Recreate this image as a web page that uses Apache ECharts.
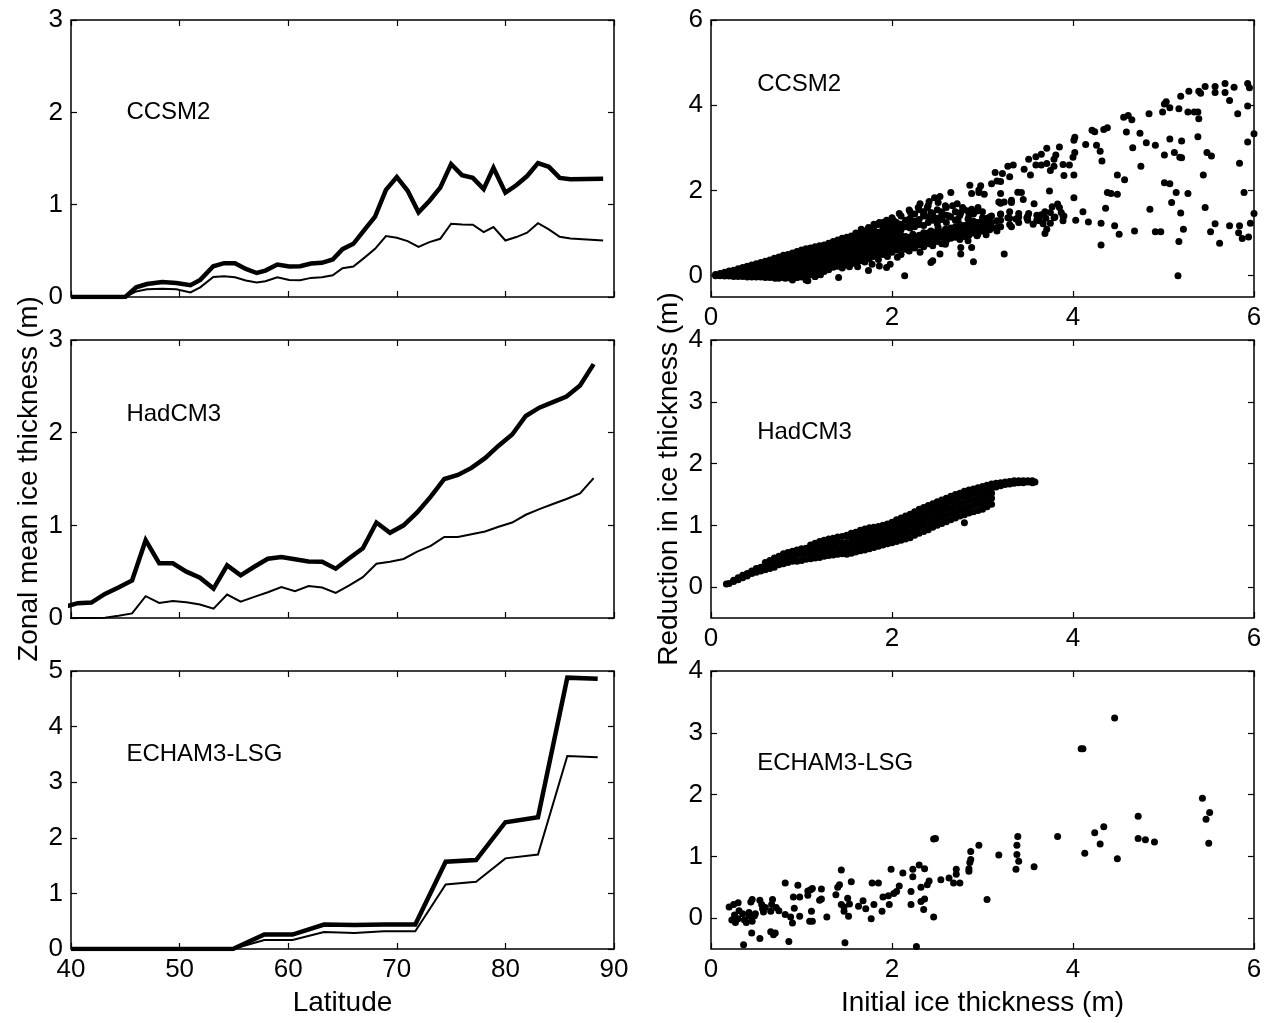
<!DOCTYPE html>
<html><head><meta charset="utf-8">
<script src="https://cdn.jsdelivr.net/npm/echarts@6/dist/echarts.min.js"></script>
<style>html,body{margin:0;padding:0;background:#fff}#c{width:1266px;height:1023px}</style>
</head><body><div id="c"></div><script>
// ---------------- DATA ----------------
const modelNames = ['CCSM2', 'HadCM3', 'ECHAM3-LSG'];

const latCCSM2 = [40,45,46,47,48.4,49.7,51,51.9,53.1,54.1,55.1,56.1,57.1,57.9,59,60.1,61.1,62.1,63.1,64.1,65,66,67,68,69,70,71,72,73,74,75,76,77,78,78.9,80,81,82,83,84,85,86,89];
const ccsm2Thick = [0,0,0.105,0.14,0.163,0.152,0.127,0.185,0.333,0.366,0.366,0.304,0.26,0.286,0.351,0.33,0.333,0.362,0.37,0.406,0.518,0.576,0.725,0.87,1.16,1.30,1.15,0.917,1.04,1.185,1.44,1.32,1.29,1.17,1.40,1.13,1.21,1.31,1.45,1.41,1.29,1.275,1.28];
const ccsm2Thin = [0,0,0.06,0.085,0.09,0.085,0.05,0.105,0.217,0.225,0.214,0.178,0.156,0.17,0.214,0.185,0.181,0.207,0.214,0.236,0.312,0.33,0.424,0.522,0.66,0.641,0.605,0.543,0.594,0.63,0.793,0.786,0.783,0.703,0.757,0.612,0.649,0.696,0.80,0.732,0.652,0.634,0.612];

const latHadCM3 = [39.375,40.625,41.875,43.125,44.375,45.625,46.875,48.125,49.375,50.625,51.875,53.125,54.375,55.625,56.875,58.125,59.375,60.625,61.875,63.125,64.375,65.625,66.875,68.125,69.375,70.625,71.875,73.125,74.375,75.625,76.875,78.125,79.375,80.625,81.875,83.125,84.375,85.625,86.875,88.125];
const hadThick = [0.12,0.16,0.167,0.26,0.33,0.405,0.84,0.59,0.59,0.5,0.434,0.318,0.568,0.46,0.553,0.64,0.658,0.633,0.611,0.608,0.532,0.644,0.752,1.03,0.919,1.0,1.14,1.31,1.50,1.544,1.62,1.725,1.86,1.98,2.18,2.27,2.33,2.39,2.51,2.74];
const hadThin = [0,0,0,0.004,0.025,0.05,0.235,0.163,0.184,0.17,0.145,0.10,0.253,0.177,0.228,0.278,0.333,0.29,0.344,0.329,0.271,0.351,0.44,0.586,0.608,0.637,0.716,0.778,0.875,0.875,0.904,0.933,0.984,1.03,1.114,1.175,1.23,1.284,1.345,1.51];

const latECHAM = [40,43.2,46.0,48.8,51.6,54.9,57.8,60.4,63.3,66.1,68.8,71.7,74.5,77.3,80.0,83.0,85.7,88.5];
const echamThick = [0,0,0,0,0,0,0.26,0.26,0.44,0.43,0.44,0.44,1.57,1.60,2.28,2.37,4.88,4.86];
const echamThin = [0,0,0,0,0,0,0.163,0.163,0.307,0.289,0.319,0.319,1.16,1.21,1.63,1.70,3.47,3.45];

// CCSM2 scatter: dense core, read column by column [initial thickness, [reductions]]
const ccsm2Columns = [
 [0.05,[0.0,0.03]],[0.1,[0.0,0.05]],[0.15,[-0.01,0.04,0.08]],[0.2,[-0.01,0.05,0.11]],
 [0.25,[-0.02,0.05,0.13]],[0.3,[-0.02,0.04,0.1,0.16]],[0.35,[-0.02,0.05,0.12,0.19]],
 [0.4,[-0.03,0.04,0.11,0.18,0.22]],[0.45,[-0.03,0.04,0.12,0.2,0.25]],[0.5,[-0.03,0.05,0.13,0.21,0.28]],
 [0.55,[-0.03,0.05,0.13,0.22,0.31]],[0.6,[-0.04,0.04,0.12,0.2,0.28,0.34]],[0.65,[-0.04,0.04,0.12,0.21,0.3,0.37]],
 [0.7,[-0.05,0.03,0.11,0.2,0.29,0.38,0.41]],[0.75,[-0.06,0.03,0.12,0.21,0.3,0.39,0.44]],
 [0.8,[-0.04,0.04,0.13,0.22,0.31,0.4,0.48]],[0.85,[-0.05,0.04,0.13,0.22,0.31,0.4,0.5]],
 [0.9,[-0.08,0.02,0.11,0.2,0.29,0.38,0.47,0.53]],[0.95,[-0.04,0.05,0.14,0.23,0.32,0.41,0.5,0.57]],
 [1.0,[-0.03,0.06,0.15,0.24,0.33,0.42,0.51,0.6]],[1.05,[-0.1,0.02,0.11,0.2,0.29,0.38,0.47,0.56,0.63]],
 [1.1,[0.02,0.11,0.2,0.29,0.38,0.47,0.56,0.65]],[1.15,[-0.02,0.07,0.16,0.25,0.34,0.43,0.52,0.61,0.68]],
 [1.2,[0.04,0.13,0.22,0.31,0.4,0.49,0.58,0.67,0.7]],[1.25,[0.1,0.19,0.28,0.37,0.46,0.55,0.64,0.72]],
 [1.3,[0.14,0.23,0.32,0.41,0.5,0.59,0.68,0.76]],[1.35,[0.2,0.29,0.38,0.47,0.56,0.65,0.74,0.8]],
 [1.4,[0.22,0.31,0.4,0.49,0.58,0.67,0.76,0.84]],[1.45,[0.18,0.27,0.36,0.45,0.54,0.63,0.72,0.81,0.88]],
 [1.5,[0.25,0.34,0.43,0.52,0.61,0.7,0.79,0.9]],[1.55,[0.28,0.37,0.46,0.55,0.64,0.73,0.82,0.93]],
 [1.6,[0.3,0.4,0.5,0.6,0.7,0.8,0.9,1.0]],[1.65,[0.35,0.45,0.55,0.65,0.75,0.85,0.98]],
 [1.7,[0.32,0.42,0.52,0.62,0.72,0.82,0.92,1.05]],[1.75,[0.4,0.5,0.6,0.7,0.8,0.9,1.0,1.1]],
 [1.8,[0.45,0.55,0.65,0.75,0.85,0.95,1.05,1.15]],[1.85,[0.38,0.5,0.62,0.72,0.82,0.92,1.02,1.2]],
 [1.9,[0.5,0.6,0.7,0.8,0.9,1.0,1.12,1.25]],[1.95,[0.45,0.55,0.68,0.78,0.88,0.98,1.1,1.22]],
 [2.0,[0.55,0.65,0.75,0.85,0.95,1.05,1.18,1.3]],[2.05,[0.6,0.7,0.8,0.9,1.0,1.12,1.25]],
 [2.1,[0.5,0.65,0.75,0.85,0.95,1.08,1.2,1.4]],[2.15,[0.62,0.72,0.82,0.92,1.15,1.3]],
 [2.2,[0.7,0.8,0.9,1.12,1.22,1.35,1.5]],[2.25,[0.65,0.78,0.88,1.15,1.28,1.45]],
 [2.3,[0.72,0.85,0.95,1.2,1.32,1.55]],[2.35,[0.68,0.8,0.92,1.18,1.4,1.5]],
 [2.4,[0.75,0.88,1.0,1.25,1.38,1.65]],[2.45,[0.7,0.85,0.97,1.3,1.45]],
 [2.5,[0.8,0.92,1.05,1.22,1.35,1.55]],[2.55,[0.75,0.9,1.02,1.32,1.5]],
 [2.6,[0.82,0.95,1.08,1.25,1.42,1.6]],[2.65,[0.88,1.0,1.12,1.38]],
 [2.7,[0.9,1.02,1.15,1.3,1.5]],[2.75,[0.85,0.98,1.1,1.2,1.42]],
 [2.8,[0.92,1.05,1.18,1.55]],[2.85,[0.95,1.1,1.22,1.4]],[2.9,[1.0,1.15,1.28,1.45]],
 [2.95,[0.98,1.12,1.25,1.6]],[3.0,[1.05,1.18,1.3,1.5]],[3.05,[1.1,1.22,1.35]],
 [3.1,[1.12,1.25,1.4]],[3.2,[1.15,1.3,1.45,1.7]],[3.3,[1.2,1.35,1.5]],[3.4,[1.25,1.38]],
 [3.5,[1.3,1.4]],[3.6,[1.3,1.42]],[3.7,[1.35]],[3.8,[1.38]],[3.9,[1.4]]
];
// CCSM2 scatter: individually read points
const ccsm2Points = [
 [5.68,4.51],[5.78,4.42],[5.93,4.51],[5.95,4.41],[5.57,4.44],[5.68,4.30],[5.57,4.30],[5.46,4.44],[5.41,4.28],[5.39,4.33],
 [5.28,4.33],[5.19,4.21],[5.03,4.08],[5.01,4.03],[5.07,3.94],[5.17,3.92],[5.73,4.11],[5.93,3.98],[5.82,3.80],[5.38,3.84],
 [5.27,3.84],[5.34,3.84],[5.39,3.68],[4.99,3.84],[4.84,3.80],[4.56,3.72],[4.61,3.76],[4.65,3.66],[4.38,3.47],[4.34,3.43],
 [4.21,3.41],[4.24,3.38],[4.02,3.25],[4.01,3.18],[4.14,3.08],[4.26,3.06],[4.59,3.37],[4.74,3.34],[6.0,3.33],[5.93,3.14],
 [5.38,3.26],[5.20,3.16],[5.07,3.21],[4.81,3.12],[4.91,3.06],[4.66,3.00],[4.02,2.89],[4.30,2.92],[4.32,2.69],[5.01,2.83],
 [5.12,2.89],[5.18,2.78],[5.20,2.77],[5.48,2.89],[5.53,2.81],[4.75,2.57],[5.84,2.64],[4.49,2.36],[4.57,2.25],[5.44,2.36],
 [5.01,2.18],[5.07,2.16],[4.38,1.95],[4.42,1.93],[4.49,1.91],[5.14,1.95],[5.27,1.93],[5.89,1.95],[5.09,1.72],[4.01,1.83],
 [4.36,1.58],[4.85,1.56],[5.46,1.60],[4.11,1.50],[5.19,1.47],[6.0,1.46],[4.03,1.30],[4.17,1.26],[4.31,1.23],[4.46,1.17],
 [4.51,0.97],[4.68,1.05],[4.91,1.03],[4.97,1.03],[5.22,1.09],[5.52,1.03],[5.57,1.22],[5.73,1.17],[5.84,1.17],[5.83,1.01],
 [5.87,0.87],[5.94,0.91],[5.96,1.23],[5.62,0.76],[5.17,0.80],[4.31,0.72],[5.16,0.0],
 [3.71,2.99],[3.85,3.02],[3.81,2.83],[3.79,2.73],[3.89,2.61],[3.96,2.60],[4.0,2.78],[3.65,2.85],[3.59,2.79],[3.51,2.73],
 [3.46,2.50],[3.59,2.60],[3.65,2.60],[3.71,2.63],[3.79,2.57],[3.75,2.47],[3.90,2.35],[4.01,2.36],[3.53,2.36],[3.28,2.57],
 [3.34,2.60],[3.22,2.40],[3.30,2.32],[3.16,2.22],[3.20,2.21],[3.10,2.16],[3.14,2.42],[2.98,2.11],[2.96,2.01],[2.86,2.12],
 [2.88,1.93],[2.96,1.95],[3.02,1.91],[3.39,1.96],[3.43,1.95],[3.20,1.93],[3.74,1.99],[3.45,1.79],[3.18,1.73],[3.24,1.73],
 [3.32,1.72],[3.32,1.77],[3.57,1.69],[3.83,1.68],[3.69,1.50],[3.77,1.62],[3.85,1.60],[3.75,1.48],[3.87,1.48],[3.89,1.40],
 [3.89,1.29],[3.79,1.36],[3.65,1.43],[3.63,1.29],[3.75,1.23],[3.67,1.22],[3.56,1.21],[3.71,1.09],[3.69,0.99],[3.49,1.36],
 [3.40,1.46],[3.51,1.46],[3.32,1.15],[3.24,0.51],[3.16,1.13],[3.08,1.08],[3.0,1.09],
 [2.65,1.95],[2.53,1.86],[2.47,1.83],[2.41,1.74],[2.51,1.72],[2.59,1.64],[2.67,1.64],[2.78,1.60],[2.72,1.69],[2.84,1.52],
 [2.88,1.56],[2.94,1.52],[2.76,1.48],[2.31,1.69],[2.29,1.60],[2.39,1.60],[2.19,1.54],[2.08,1.46],[2.35,1.44],[2.43,1.48],
 [2.55,1.43],[2.63,1.40],[2.73,1.33],[2.84,1.33],[3.0,1.36],[3.08,1.38],[3.20,1.44],[3.28,1.36],[3.37,1.33],[3.16,1.29],
 [3.04,1.21],[2.92,1.25],[2.84,1.17],[2.76,1.13],[2.67,1.09],[2.59,1.09],[2.51,1.13],[2.43,1.05],[2.35,1.01],[2.23,0.97],
 [2.27,1.21],[2.19,1.29],[2.10,1.21],[2.02,1.29],[1.94,1.30],[2.0,1.36],[1.86,1.25],[1.80,1.21],[1.74,1.13],[1.66,1.09],
 [0.71,-0.06],[0.82,-0.06],[0.90,-0.10],[0.95,-0.04],[1.07,-0.12],[1.15,-0.02],[1.21,0.02],[1.27,0.16],[1.41,-0.04],[1.53,0.21],
 [1.62,0.21],[1.74,0.12],[1.78,0.27],[1.86,0.23],[1.94,0.19],[1.98,0.27],[2.14,0.0],[2.06,0.43],[2.19,0.58],[2.31,0.55],
 [2.43,0.31],[2.45,0.35],[2.53,0.51],[2.59,0.74],[2.76,0.51],[2.76,0.66],[2.90,0.33],[2.88,0.66],[2.84,0.82],[2.94,0.94],
 [3.04,0.96],[3.16,1.05]
];

// HadCM3 scatter: band read column by column
const hadColumns = [
 [0.17,[0.05]],[0.2,[0.06]],[0.25,[0.09,0.11]],[0.3,[0.12,0.15]],[0.35,[0.15,0.19]],[0.4,[0.18,0.22]],
 [0.45,[0.22,0.26]],[0.5,[0.24,0.3]],[0.55,[0.26,0.32]],[0.6,[0.28,0.35,0.4]],[0.65,[0.3,0.37,0.43]],
 [0.7,[0.32,0.4,0.47]],[0.75,[0.36,0.44,0.5]],[0.8,[0.38,0.46,0.54]],[0.85,[0.4,0.48,0.56]],
 [0.9,[0.42,0.5,0.58]],[0.95,[0.42,0.52,0.6]],[1.0,[0.43,0.53,0.62]],[1.05,[0.45,0.55,0.63]],
 [1.1,[0.46,0.55,0.64,0.68]],[1.15,[0.47,0.56,0.65,0.71]],[1.2,[0.48,0.57,0.66,0.74]],
 [1.25,[0.5,0.58,0.67,0.76]],[1.3,[0.51,0.6,0.69,0.78]],[1.35,[0.52,0.62,0.71,0.79]],
 [1.4,[0.53,0.62,0.72,0.81]],[1.45,[0.54,0.63,0.72,0.82]],[1.5,[0.53,0.62,0.72,0.82,0.84]],
 [1.55,[0.55,0.64,0.73,0.82,0.87]],[1.6,[0.57,0.66,0.75,0.84,0.89]],[1.65,[0.59,0.68,0.77,0.86,0.92]],
 [1.7,[0.6,0.69,0.78,0.87,0.94]],[1.75,[0.62,0.71,0.8,0.89,0.96]],[1.8,[0.64,0.73,0.82,0.9,0.97]],
 [1.85,[0.66,0.75,0.84,0.92,0.98]],[1.9,[0.68,0.77,0.86,0.94,1.0]],[1.95,[0.7,0.79,0.88,0.96,1.02]],
 [2.0,[0.72,0.81,0.9,0.99,1.05]],[2.05,[0.74,0.83,0.92,1.01,1.09]],[2.1,[0.76,0.85,0.94,1.03,1.12]],
 [2.15,[0.78,0.87,0.96,1.06,1.15]],[2.2,[0.8,0.9,1.0,1.1,1.18]],[2.25,[0.84,0.94,1.04,1.14,1.22]],
 [2.3,[0.87,0.97,1.07,1.17,1.26]],[2.35,[0.9,1.0,1.1,1.2,1.29]],[2.4,[0.93,1.03,1.13,1.23,1.32]],
 [2.45,[0.97,1.07,1.17,1.27,1.35]],[2.5,[1.0,1.1,1.2,1.3,1.38]],[2.55,[1.03,1.13,1.23,1.33,1.41]],
 [2.6,[1.06,1.16,1.26,1.36,1.44]],[2.65,[1.09,1.19,1.29,1.39,1.47]],[2.7,[1.12,1.22,1.32,1.42,1.5]],
 [2.75,[1.15,1.25,1.35,1.45,1.52]],[2.8,[1.17,1.27,1.37,1.47,1.55]],[2.85,[1.2,1.3,1.4,1.5,1.57]],
 [2.9,[1.22,1.32,1.42,1.52,1.59]],[2.95,[1.24,1.34,1.44,1.54,1.61]],[3.0,[1.26,1.36,1.46,1.56,1.63]],
 [3.05,[1.3,1.4,1.5,1.58,1.65]],[3.1,[1.34,1.44,1.52,1.6,1.67]],[3.15,[1.62,1.68]],[3.2,[1.64,1.69]],
 [3.25,[1.66,1.7]],[3.3,[1.67,1.71]],[3.35,[1.68,1.72]],[3.4,[1.69,1.72]],[3.45,[1.69,1.72]],
 [3.5,[1.7,1.72]],[3.55,[1.69,1.72]],[3.58,[1.7]]
];
const hadPoints = [[2.8,1.04]];

// ECHAM3-LSG scatter points
const echamPoints = [
 [4.46,3.24],[4.09,2.74],[4.11,2.74],[5.43,1.94],[4.72,1.65],[5.51,1.71],[5.47,1.60],[5.50,1.21],[4.34,1.48],[4.24,1.38],
 [4.30,1.20],[4.13,1.05],[4.49,0.96],[4.72,1.29],[4.80,1.27],[4.90,1.23],[3.83,1.32],[3.39,1.32],[3.38,1.18],[3.38,1.03],
 [3.40,0.92],[3.37,0.79],[3.57,0.83],[3.18,1.02],[3.05,0.30],[2.96,1.18],[2.87,1.08],[2.87,0.95],[2.86,0.90],[2.85,0.80],
 [2.85,0.76],[2.71,0.79],[2.71,0.71],[2.75,0.57],[2.68,0.57],[2.63,0.65],[2.54,0.62],[2.48,1.29],[2.46,1.28],[2.41,0.60],
 [2.39,0.54],[2.32,0.50],[2.36,0.80],[2.30,0.86],[2.23,0.79],[2.23,0.67],[2.12,0.73],[2.08,0.52],[2.05,0.43],[1.99,0.79],
 [2.02,0.40],[1.96,0.36],[1.90,0.34],[1.97,0.22],[1.89,0.11],[2.36,0.31],[2.32,0.27],[2.35,0.14],[2.46,0.02],[2.21,0.43],
 [2.21,0.22],[2.27,-0.46],[1.85,0.57],[1.78,0.57],[1.80,0.22],[1.77,-0.01],[1.68,0.28],[1.71,0.15],[1.63,0.19],[1.55,0.59],
 [1.53,0.23],[1.52,0.03],[1.51,0.32],[1.47,0.18],[1.47,0.11],[1.48,-0.40],[1.44,0.78],[1.42,0.54],[1.40,0.50],[1.38,0.38],
 [1.44,0.22],[1.28,0.02],[1.22,0.47],[1.22,0.31],[1.20,0.29],[1.12,0.48],[1.10,0.46],[1.07,0.44],[1.07,0.37],[1.11,0.11],
 [1.09,-0.05],[1.12,-0.05],[0.98,0.34],[0.96,0.53],[0.98,0.03],[0.90,-0.08],[0.91,0.34],[0.92,0.16],[0.88,0.02],[0.86,-0.38],
 [0.82,0.57],[0.82,0.06],[0.72,0.17],[0.75,0.12],[0.71,-0.24],[0.69,-0.27],[0.68,0.30],[0.66,-0.22],[0.66,0.11],[0.67,0.22],
 [0.63,-0.51],[0.58,0.10],[0.57,0.15],[0.54,0.29],[0.56,0.22],[0.54,-0.33],[0.48,0.04],[0.455,0.30],[0.44,0.26],[0.455,-0.05],
 [0.45,-0.24],[0.42,0.09],[0.39,-0.07],[0.37,-0.03],[0.36,-0.43],[0.35,0.07],[0.31,0.12],[0.30,-0.01],[0.27,-0.07],[0.26,0.05],
 [0.23,-0.03],[0.30,0.25],[0.25,0.22],[0.20,0.18],[0.42,0.03],[0.49,0.07],[0.60,0.17]
];

// Axis ranges and tick labels
const latTicks = [40,50,60,70,80,90];
const leftYRanges = [[0,3],[0,3],[0,5]];
const rightXTicks = [0,2,4,6];
const rightYRanges = [[-0.5,6],[-0.5,4],[-0.5,4]];
const rightYTicks = [[0,2,4,6],[0,1,2,3,4],[0,1,2,3,4]];
const labelAtLeft = [[45.1,2.0],[45.1,2.2],[45.1,3.5]];
const labelAtRight = [[0.51,4.5],[0.51,2.5],[0.51,2.5]];

// ---------------- CHART ----------------
const FONT = '"Liberation Sans", Arial, Helvetica, sans-serif';
const TICK_FS = 26, NAME_FS = 28, TEXT_FS = 24;
const grids = [
 {left:71, top:20, width:543, height:277},
 {left:71, top:340, width:543, height:278},
 {left:71, top:671, width:543, height:278},
 {left:711, top:20, width:543, height:277},
 {left:711, top:340, width:543, height:278},
 {left:711, top:671, width:543, height:278}
].map(g => Object.assign({show:true, borderColor:'#000', borderWidth:1.5, backgroundColor:'transparent'}, g));

const tickStyle = {show:true, inside:true, length:6, lineStyle:{color:'#000', width:1.2}};
function axisBase(extra) {
  return Object.assign({
    type:'value', axisLine:{show:false, onZero:false}, splitLine:{show:false},
    axisTick:tickStyle,
    axisLabel:{show:false, color:'#000', fontSize:TICK_FS, fontFamily:FONT, margin:8},
    nameTextStyle:{color:'#000', fontSize:NAME_FS, fontFamily:FONT}
  }, extra);
}
const xAxes = [], yAxes = [];
for (let i = 0; i < 3; i++) {
  const showLab = i === 2;
  xAxes.push(axisBase({gridIndex:i, position:'bottom', min:latTicks[0], max:latTicks[latTicks.length-1], interval:10,
    axisLabel:{show:showLab, color:'#000', fontSize:TICK_FS, fontFamily:FONT, margin:8},
    name: showLab ? 'Latitude' : '', nameLocation:'middle', nameGap:40}));
  xAxes.push(axisBase({gridIndex:i, position:'top', min:latTicks[0], max:latTicks[latTicks.length-1], interval:10}));
  yAxes.push(axisBase({gridIndex:i, position:'left', min:leftYRanges[i][0], max:leftYRanges[i][1], interval:1,
    axisLabel:{show:true, color:'#000', fontSize:TICK_FS, fontFamily:FONT, margin:8},
    name: i === 1 ? 'Zonal mean ice thickness (m)' : '', nameLocation:'middle', nameGap:28}));
  yAxes.push(axisBase({gridIndex:i, position:'right', min:leftYRanges[i][0], max:leftYRanges[i][1], interval:1}));
}
for (let i = 0; i < 3; i++) {
  const g = i + 3;
  xAxes.push(axisBase({gridIndex:g, position:'bottom', min:rightXTicks[0], max:rightXTicks[rightXTicks.length-1], interval:2,
    axisLabel:{show:true, color:'#000', fontSize:TICK_FS, fontFamily:FONT, margin:8},
    name: i === 2 ? 'Initial ice thickness (m)' : '', nameLocation:'middle', nameGap:40}));
  xAxes.push(axisBase({gridIndex:g, position:'top', min:0, max:6, interval:2}));
  yAxes.push(axisBase({gridIndex:g, position:'left', min:rightYRanges[i][0], max:rightYRanges[i][1],
    axisTick:Object.assign({}, tickStyle, {customValues:rightYTicks[i]}),
    axisLabel:{show:true, color:'#000', fontSize:TICK_FS, fontFamily:FONT, margin:8, customValues:rightYTicks[i]},
    name: i === 1 ? 'Reduction in ice thickness (m)' : '', nameLocation:'middle', nameGap:28}));
  yAxes.push(axisBase({gridIndex:g, position:'right', min:rightYRanges[i][0], max:rightYRanges[i][1],
    axisTick:Object.assign({}, tickStyle, {customValues:rightYTicks[i]}),
    axisLabel:{show:false, customValues:rightYTicks[i]}}));
}

const zip = (xs, ys) => xs.map((x, k) => [x, ys[k]]);
const flattenCols = cols => cols.flatMap(([x, ys]) => ys.map(y => [x, y]));

const series = [];
function lineSeries(grid, xs, ys, w) {
  series.push({type:'line', xAxisIndex:2*grid, yAxisIndex:2*grid, data:zip(xs, ys), symbol:'none', silent:true,
    clip:true, lineStyle:{color:'#000', width:w, join:'miter', opacity:1}, animation:false});
}
lineSeries(0, latCCSM2, ccsm2Thick, 4.5); lineSeries(0, latCCSM2, ccsm2Thin, 2);
lineSeries(1, latHadCM3, hadThick, 4.5); lineSeries(1, latHadCM3, hadThin, 2);
lineSeries(2, latECHAM, echamThick, 4.5); lineSeries(2, latECHAM, echamThin, 2);

function scatterSeries(grid, pts) {
  series.push({type:'scatter', xAxisIndex:2*grid, yAxisIndex:2*grid, data:pts, symbol:'circle', symbolSize:7,
    itemStyle:{color:'#000', opacity:1}, silent:true, clip:true, animation:false});
}
scatterSeries(3, flattenCols(ccsm2Columns).concat(ccsm2Points));
scatterSeries(4, flattenCols(hadColumns).concat(hadPoints));
scatterSeries(5, echamPoints);

function textSeries(grid, pos, name) {
  series.push({type:'scatter', xAxisIndex:2*grid, yAxisIndex:2*grid, symbolSize:0, silent:true, animation:false,
    itemStyle:{opacity:1},
    data:[{value:pos, name:name}],
    label:{show:true, position:'right', distance:0, formatter:'{b}', color:'#000', opacity:1, fontSize:TEXT_FS, fontFamily:FONT}});
}
for (let i = 0; i < 3; i++) {
  textSeries(i, labelAtLeft[i], modelNames[i]);
  textSeries(i + 3, labelAtRight[i], modelNames[i]);
}

const chart = echarts.init(document.getElementById('c'), null, {renderer:'canvas'});
chart.setOption({animation:false, backgroundColor:'#fff', grid:grids, xAxis:xAxes, yAxis:yAxes, series:series});
</script></body></html>
